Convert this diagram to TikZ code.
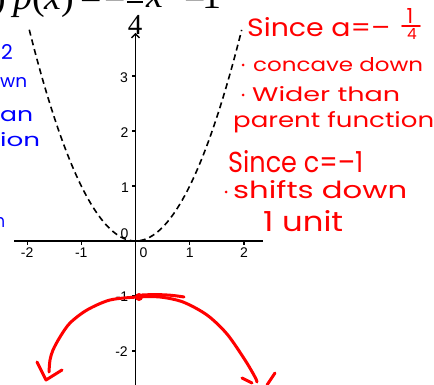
\documentclass[tikz,border=0pt]{standalone}
\usepackage{fontspec}
\usepackage{graphicx}
\setmainfont{Liberation Serif}
\newfontfamily\axfont{Liberation Sans}
\newfontfamily\handfont{Poppins}
\usetikzlibrary{arrows.meta}
\newcommand{\hwbox}[3]{\resizebox{#1pt}{#2pt}{\handfont #3}}
\newcommand{\hwh}[2]{\resizebox{!}{#1pt}{\handfont #2}}
\tikzset{
  redhw/.style={inner sep=0pt, anchor=base west, text=red},
  bluehw/.style={inner sep=0pt, anchor=base west, text=blue},
  axlab/.style={inner sep=0pt, font=\axfont\fontsize{14}{14}\selectfont},
  ttl/.style={inner sep=0pt, anchor=base west, font=\fontsize{38}{38}\selectfont},
  axisline/.style={line width=1.4pt, black},
  tickline/.style={line width=1.2pt, black},
  parent/.style={line width=1.6pt, dash pattern=on 6pt off 4pt, black},
  ink/.style={red, line width=3pt, line cap=round, line join=round},
  thinink/.style={red, line width=1.6pt, line cap=round},
  bullet/.style={circle, fill=red, inner sep=0pt, minimum size=3pt}
}
\begin{document}
\begin{tikzpicture}[x=1pt,y=-1pt]
\useasboundingbox (0,0) rectangle (434,385);
\fill[white] (0,0) rectangle (434,385);

% title (cut at the top)
\node[ttl, anchor=base east] (tpar) at (6,10) {)};
\node[ttl] (tpx) at (13,10) {\textit{p}(\textit{x})};
\node[ttl] (teq) at (80,10) {=};
\node[ttl] (tm1) at (104,13) {−};
\coordinate (fbl) at (127,2);
\coordinate (fbr) at (143,2);
\draw[line width=1.6pt] (fbl) -- (fbr);
\node[inner sep=0pt, anchor=base, font=\fontsize{29}{29}\selectfont] (tden) at (135,35) {4};
\node[ttl] (tx) at (146,8) {\textit{x}};
\node[ttl] (tm2) at (184,13) {−};
\node[ttl] (tone) at (202,9) {1};

% axes
\coordinate (xl) at (14,241);
\coordinate (xr) at (263,241);
\coordinate (yb) at (135.5,385);
\coordinate (yt) at (135.5,33);
\draw[axisline] (xl) -- (xr);
\draw[axisline, -{Straight Barb[length=4pt,width=8pt]}] (yb) -- (yt);

% x ticks
\foreach \xv/\lab/\nm in {-2/-2/a,-1/-1/b,1/1/c,2/2/d}{
  \coordinate (xt\nm) at ({135.5+54.2*\xv},241);
  \draw[tickline] (xt\nm) -- ++(0,4);
  \node[axlab] (xlab\nm) at ({135.5+54.2*\xv},252.5) {\lab};
}
% y ticks
\foreach \yv/\nm in {3/a,2/b,1/c,-1/d,-2/e}{
  \coordinate (yt\nm) at (135.5,{241-55*\yv});
  \draw[tickline] (yt\nm) -- ++(-4,0);
}
\node[axlab] (ylaba) at (124,78) {3};
\node[axlab] (ylabb) at (124.5,133) {2};
\node[axlab] (ylabc) at (125,187.5) {1};
\node[axlab] (ylabd) at (122,297) {-1};
\node[axlab] (ylabe) at (121.5,352) {-2};
\node[axlab] (zeroa) at (124.5,234) {0};
\node[axlab] (zerob) at (143.5,252.5) {0};

% parent function y = x^2 (dashed)
\draw[parent] plot[domain=-1.96:1.96, samples=90] ({135.5+54.2*\x},{241-55*\x*\x});

% hand-drawn red parabola
\draw[ink] plot[smooth] coordinates {(49,372) (50,360) (53,350) (60,337) (70,323) (87,310) (110,300) (138,297) (160,297) (183,302) (207,315) (227,334) (245,360) (255,377) (257,382)};
\draw[ink] (37,362) -- (46,380) -- (62,370);
\draw[ink] (242,378) -- (252,383);
\draw[ink] (275,373) -- (267,385);
\draw[ink] (142,295) .. controls (160,294) and (172,295) .. (184,297);
\node[circle, fill=red, inner sep=0pt, minimum size=8pt] (vertex) at (139,297) {};

% red notes
\node[redhw] (r1) at (247,37) {\hwbox{143}{19}{Since a=–}};
\node[redhw, anchor=base] (r1n) at (410,24) {\hwh{15}{1}};
\coordinate (r1bl) at (402,26);
\coordinate (r1br) at (420,26);
\draw[thinink] (r1bl) -- (r1br);
\node[redhw, anchor=base] (r1d) at (412,40) {\hwh{11}{4}};

\node[bullet] (bu1) at (243,65) {};
\node[redhw] (r2) at (253,72) {\hwbox{170}{14}{concave down}};
\node[bullet] (bu2) at (243,95) {};
\node[redhw] (r3) at (252,102) {\hwbox{148}{15}{Wider than}};
\node[redhw] (r4) at (233,128) {\hwbox{201}{16}{parent function}};
\node[redhw] (r5) at (228,172) {\hwbox{135}{22}{Since c=–1}};
\node[bullet] (bu3) at (226,192) {};
\node[redhw] (r6) at (233,198) {\hwbox{174}{18}{shifts down}};
\node[redhw] (r7) at (263,231) {\hwbox{80}{21}{1 unit}};

% blue notes (cut at the left edge)
\node[bluehw, anchor=base east] (b1) at (13,60) {\hwh{15}{2}};
\node[bluehw] (b2) at (0,88) {\hwbox{27}{10}{wn}};
\node[bluehw] (b3) at (0,122) {\hwbox{33}{11}{an}};
\node[bluehw] (b4) at (0,147) {\hwbox{40}{14}{ion}};
\node[bluehw] (b5) at (-5,227) {\hwbox{10}{10}{n}};
\end{tikzpicture}
\end{document}
